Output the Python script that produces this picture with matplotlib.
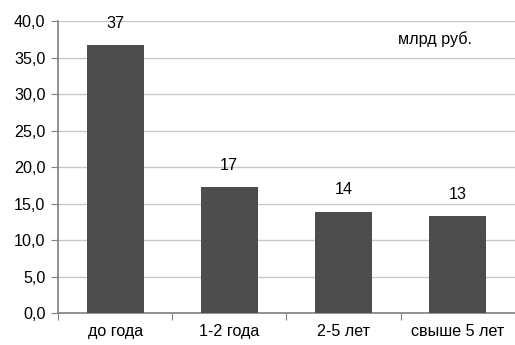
import matplotlib
matplotlib.use('Agg')
import matplotlib.pyplot as plt
import numpy as np
from matplotlib.ticker import MultipleLocator, FuncFormatter

# Data
categories = ['до года', '1-2 года', '2-5 лет', 'свыше 5 лет']
values = [36.7, 17.2, 13.9, 13.3]
labels = ['37', '17', '14', '13']

plt.rcParams['font.family'] = ['Liberation Sans', 'DejaVu Sans']
fs = 11.6

fig = plt.figure(figsize=(5.15, 3.45), dpi=100)
ax = fig.add_axes([0.1126, 0.0928, 0.887, 0.846])

x = np.arange(len(categories))
ax.bar(x, values, width=0.5, color='#4d4d4d', zorder=3)
for xi, v, lab in zip(x, values, labels):
    ax.text(xi, v + 3.0, lab, ha='center', va='center', fontsize=fs, color='black')

ax.set_xlim(-0.5, len(categories) - 0.5)
ax.set_ylim(0, 40)
ax.yaxis.set_major_locator(MultipleLocator(5))
ax.yaxis.set_major_formatter(FuncFormatter(lambda v, p: ('%.1f' % v).replace('.', ',')))
ax.grid(axis='y', color='#c8c8c8', linewidth=1, zorder=0)

# category boundaries as tick marks, labels in between
ax.set_xticks(np.arange(-0.5, len(categories), 1.0))
ax.set_xticklabels([])
ax.set_xticks(x, minor=True)
ax.set_xticklabels(categories, minor=True)
ax.tick_params(axis='x', which='minor', length=0, labelsize=fs, pad=8)
ax.tick_params(axis='x', which='major', length=5, color='#808080', direction='out')
ax.tick_params(axis='y', length=5, color='#808080', labelsize=fs, pad=4)

for s in ['top', 'right']:
    ax.spines[s].set_visible(False)
ax.spines['left'].set_color('#808080')
ax.spines['bottom'].set_color('#808080')
ax.spines['left'].set_linewidth(1.2)
ax.spines['bottom'].set_linewidth(1.2)

ax.text(2.8, 37.6, 'млрд руб.', ha='center', va='center', fontsize=fs)

fig.savefig('out.png', dpi=100)
